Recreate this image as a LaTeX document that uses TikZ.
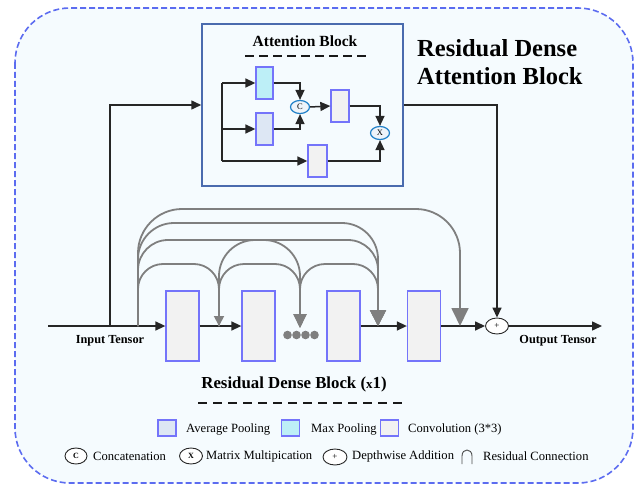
\documentclass[tikz,border=0pt]{standalone}
\usepackage{fontspec}
\setmainfont{Liberation Serif}
\usetikzlibrary{arrows.meta,shapes.geometric}
\definecolor{bgc}{HTML}{F5FBFE}
\definecolor{dashb}{HTML}{5C6CF0}
\definecolor{attb}{HTML}{4A6BAE}
\definecolor{convb}{HTML}{7474FA}
\definecolor{convf}{HTML}{F2F2F2}
\definecolor{maxf}{HTML}{BDEFF7}
\definecolor{avgf}{HTML}{DDE7F4}
\definecolor{opb}{HTML}{2080C8}
\definecolor{opf}{HTML}{EEF4FA}
\definecolor{grc}{HTML}{7F7F7F}
\definecolor{lnc}{HTML}{262626}
% dense connection: from, to, rise, radius, options
\newcommand{\densearc}[5]{%
  \draw[gr,#5] (#1) -- ([yshift={#3-#4}]#1)
    .. controls ([yshift={#3-0.45*#4}]#1) and ([xshift={0.45*#4},yshift=#3]#1) ..
    ([xshift=#4,yshift=#3]#1) -- ([xshift={-#4},yshift=#3]#2)
    .. controls ([xshift={-0.45*#4},yshift=#3]#2) and ([yshift={#3-0.45*#4}]#2) ..
    ([yshift={#3-#4}]#2) -- (#2);}
\begin{document}
\begin{tikzpicture}[x=1pt,y=-1pt,
  blk/.style={draw=convb,line width=1.3pt,inner sep=0pt,fill=convf},
  sblk/.style={blk,minimum width=17pt,minimum height=32pt},
  bblk/.style={blk,minimum width=33pt,minimum height=70pt},
  lgsq/.style={blk,minimum width=18pt,minimum height=16pt},
  opnode/.style={ellipse,draw=opb,line width=1.2pt,fill=opf,inner sep=0pt,minimum width=19pt,minimum height=13pt,font=\fontsize{8.5}{8.5}\selectfont},
  plusnode/.style={ellipse,draw=lnc,line width=0.9pt,fill=white,inner sep=0pt,minimum width=23pt,minimum height=16pt,font=\fontsize{9}{9}\selectfont},
  ln/.style={draw=lnc,line width=1.5pt},
  arr/.style={-{Triangle[length=10pt,width=9pt]}},
  gr/.style={draw=grc,line width=1.8pt},
  dsh/.style={draw=black!90,line width=2.2pt,dash pattern=on 9pt off 6pt},
  lbl/.style={font=\bfseries\fontsize{12.3}{14}\selectfont,inner sep=0pt},
  lgt/.style={font=\fontsize{12.6}{14}\selectfont,inner sep=0pt,anchor=west}
]
\useasboundingbox (0,0) rectangle (634,484);
\begin{scope}
\clip (0,0) rectangle (634,484);
\draw[draw=dashb,fill=bgc,line width=1.6pt,dash pattern=on 6pt off 3pt,rounded corners=55pt] (15,8) rectangle (633,483);
\end{scope}

% Attention block
\node[draw=attb,line width=1.5pt,minimum width=201pt,minimum height=162pt,inner sep=0pt] (att) at (302.5,105) {};
\node[font=\bfseries\fontsize{15.5}{16}\selectfont,inner sep=0pt] (atttitle) at (305,41) {Attention Block};
\draw[dsh,line width=2pt,dash pattern=on 8.5pt off 5.5pt] (245,56) -- (367,56);
\node[font=\bfseries\fontsize{24.5}{28}\selectfont,align=left,anchor=west,inner sep=0pt] (title) at (417,62) {Residual Dense\\Attention Block};

\node[sblk,fill=maxf] (mp) at (264.5,83) {};
\node[sblk,fill=avgf] (ap) at (264.5,129) {};
\node[opnode] (cc) at (300,107) {C};
\node[sblk,minimum width=18pt] (cv1) at (340,106) {};
\node[opnode] (xx) at (380,133) {X};
\node[sblk,minimum width=19pt] (cv2) at (317.5,161) {};
\coordinate (br1) at (222,83);
\coordinate (br2) at (222,129);
\coordinate (br3) at (222,161);
\draw[ln] (br1) -- (br3);
\draw[ln,arr] (br1) -- (mp.west);
\draw[ln,arr] (br2) -- (ap.west);
\draw[ln,arr] (br3) -- (cv2.west);
\draw[ln,arr] (mp.east) -| (cc.north);
\draw[ln,arr] (ap.east) -| (cc.south);
\draw[ln,arr] (cc.east) -- (cv1.west);
\draw[ln,arr] (cv1.east) -| (xx.north);
\draw[ln,arr] (cv2.east) -| (xx.south);

% Main dense block
\coordinate (in) at (48,326);
\coordinate (tap) at (110,326);
\node[bblk] (b1) at (182.5,326) {};
\node[bblk] (b2) at (258.5,326) {};
\node[bblk] (b3) at (343.5,326) {};
\node[bblk] (b4) at (424,326) {};
\node[plusnode] (plus) at (497,326) {+};
\coordinate (out) at (602,326);

\draw[ln,arr] (in) -- (b1.west);
\draw[ln,arr] (b1.east) -- (b2.west);
\draw[ln,arr] (b3.east) -- (b4.west);
\draw[ln,arr] (b4.east) -- (plus.west);
\draw[ln,arr] (plus.east) -- (out);
\draw[ln,arr] (tap) |- (att.west);
\draw[ln,arr] (att.east) -| (plus.north);

\node[lbl] (inlbl) at (110,341) {Input Tensor};
\node[lbl] (outlbl) at (558,341) {Output Tensor};

% dots
\foreach \i/\xx in {1/287.5,2/296.5,3/305.5,4/314.5} \fill[grc] (\xx,335) circle (4.3pt);

% gray dense connections
\coordinate (g0) at (138,326);
\coordinate (g1) at (219,326);
\coordinate (g2) at (300,326);
\coordinate (g3) at (378,326);
\coordinate (g4) at (460,326);
\densearc{g0}{g4}{117}{44}{-{Triangle[length=18pt,width=17pt]}}
\densearc{g0}{g3}{103}{36}{-{Triangle[length=16pt,width=16pt]}}
\densearc{g0}{g3}{86}{30}{-{Triangle[length=16pt,width=16pt]}}
\densearc{g2}{g3}{62}{25}{-{Triangle[length=16pt,width=16pt]}}
\densearc{g0}{g1}{62}{25}{-{Triangle[length=10pt,width=10pt]}}
\densearc{g1}{g2}{86}{36}{-{Triangle[length=14pt,width=13pt]},shorten >=-2pt}
\densearc{g1}{g2}{62}{25}{-{Triangle[length=14pt,width=13pt]},shorten >=-2pt}

% Residual dense block title
\node[font=\bfseries\fontsize{16.8}{18}\selectfont,inner sep=0pt] (rdbt) at (294,384) {Residual Dense Block ({\fontsize{13}{13}\selectfont x}1)};
\draw[dsh] (198,403) -- (402,403);

% Legend
\node[lgsq,fill=avgf] (lavg) at (167,428) {};
\node[lgt] (tavg) at (186,429) {Average Pooling};
\node[lgsq,fill=maxf] (lmax) at (290.5,428) {};
\node[lgt] (tmax) at (311,429) {Max Pooling};
\node[lgsq] (lconv) at (389.5,428) {};
\node[lgt] (tconv) at (408,429) {Convolution (3*3)};

\node[plusnode,minimum width=22pt,font=\fontsize{8}{8}\selectfont\bfseries] (lc) at (76,456) {C};
\node[lgt] (tc) at (93,456) {Concatenation};
\node[plusnode,font=\fontsize{8}{8}\selectfont\bfseries] (lx) at (191,456) {X};
\node[lgt] (tx) at (206,456) {Matrix Multipication};
\node[plusnode,minimum width=24pt] (lp) at (335,457) {+};
\node[lgt] (tp) at (352,456) {Depthwise Addition};
\draw[draw=black!70,line width=0.9pt] (462,464) -- (462,456) .. controls (462,448) and (472,448) .. (472,456) -- (472,464);
\node[lgt] (tr) at (483,456) {Residual Connection};
\end{tikzpicture}
\end{document}
